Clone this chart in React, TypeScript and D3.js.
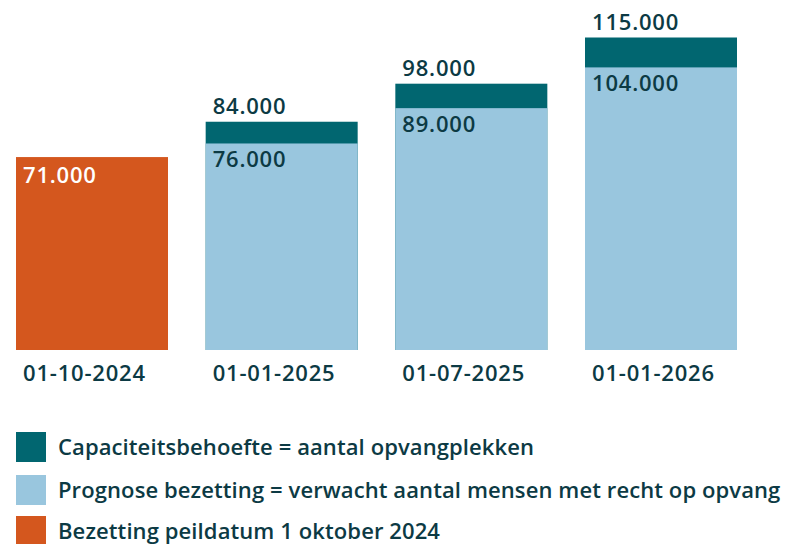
import React from "react";
import * as d3 from "d3";

const categories = ["01-10-2024", "01-01-2025", "01-07-2025", "01-01-2026"];
const capaciteit = [null, 84000, 98000, 115000];
const prognose = [null, 76000, 89000, 104000];
const bezetting = [71000, null, null, null];
const legendLabels = [
  "Capaciteitsbehoefte = aantal opvangplekken",
  "Prognose bezetting = verwacht aantal mensen met recht op opvang",
  "Bezetting peildatum 1 oktober 2024",
];

const W = 789, H = 544;
const C_DARK = "#016670", C_LIGHT = "#99c6de", C_ORANGE = "#d4571e", C_TEXT = "#0c3a44";
const FONT = "'Open Sans', sans-serif";
const fmt = (v: number) => d3.format(",")(v).replace(/,/g, ".");

export default function App() {
  const x = d3.scaleBand().domain(categories).range([16, 737]).paddingInner(0.1986).paddingOuter(0);
  const y = d3.scaleLinear().domain([0, 115000]).range([350, 37.5]);
  const legendColors = [C_DARK, C_LIGHT, C_ORANGE];
  const numProps = { fontSize: 22, fontWeight: 600, letterSpacing: 0.8 };
  return (
    <svg width={W} height={H} style={{ position: "absolute", left: 0, top: 0 }} fontFamily={FONT}>
      {categories.map((c, i) => {
        const x0 = x(c)!;
        const bw = x.bandwidth();
        const items: any[] = [];
        if (bezetting[i] != null) {
          const v = bezetting[i] as number;
          items.push(<rect key="o" x={x0} y={y(v)} width={bw} height={y(0) - y(v)} fill={C_ORANGE} />);
          items.push(<text key="ot" x={x0 + 7} y={y(v) + 26} fill="#fff" {...numProps}>{fmt(v)}</text>);
        }
        if (capaciteit[i] != null) {
          const v = capaciteit[i] as number;
          items.push(<rect key="d" x={x0} y={y(v)} width={bw} height={y(0) - y(v)} fill={C_DARK} />);
          items.push(<text key="dt" x={x0 + 7} y={y(v) - 8} fill={C_TEXT} {...numProps}>{fmt(v)}</text>);
        }
        if (prognose[i] != null) {
          const v = prognose[i] as number;
          items.push(<rect key="l" x={x0} y={y(v)} width={bw} height={y(0) - y(v)} fill={C_LIGHT} />);
          items.push(<text key="lt" x={x0 + 7} y={y(v) + 24} fill={C_TEXT} {...numProps}>{fmt(v)}</text>);
        }
        items.push(<text key="c" x={x0 + 7} y={381} fill={C_TEXT} {...numProps}>{c}</text>);
        return <g key={c}>{items}</g>;
      })}
      {legendLabels.map((l, i) => (
        <g key={l} transform={`translate(0, ${[432, 475, 516][i]})`}>
          <rect x={16} y={0} width={30} height={30} fill={legendColors[i]} />
          <text x={58} y={23} fill={C_TEXT} fontSize={22} fontWeight={600} letterSpacing={0.1}>{l}</text>
        </g>
      ))}
    </svg>
  );
}
